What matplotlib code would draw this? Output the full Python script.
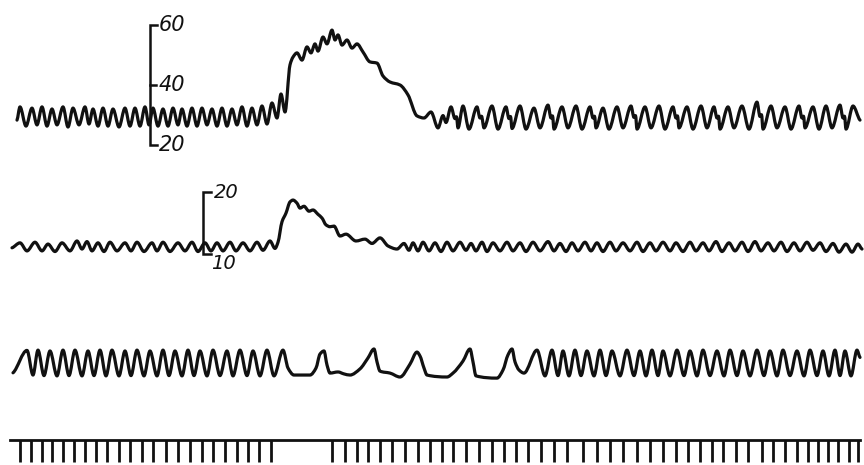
import numpy as np
import matplotlib
matplotlib.use("Agg")
import matplotlib.pyplot as plt
from matplotlib.path import Path
from matplotlib.patches import PathPatch

# ---------------- data (read from the recording) ----------------
# Trace 1: blood pressure (mmHg) vs chart position
bp_x = [17, 20, 26, 32, 37, 42, 47, 52, 57, 63, 68, 73, 79, 85, 89, 93, 98, 103, 108, 113,
        119, 125, 130, 135, 140, 145, 149, 153, 158, 163, 168, 173, 178, 182, 187, 192, 197,
        202, 207, 212, 217, 222, 227, 232, 237, 242, 247, 252, 257, 262, 267, 272, 277, 281, 285,
        290, 293, 297, 302, 307, 311, 315, 318, 323, 327, 332, 335, 338, 342, 347, 352, 357,
        363, 370, 377, 383, 390, 400, 408, 417, 424, 431, 438, 443, 446,
        451, 455, 456.5, 458, 463, 469, 477, 480, 481.5, 484, 492, 498, 506, 509, 510.5, 512,
        520, 526, 534, 540, 548, 551, 552.5, 554, 562, 568, 576, 582, 590, 593, 594.5, 596,
        603, 609, 617, 623, 631, 634, 635.5, 637, 645, 651, 659, 665, 673, 676, 677.5, 679,
        687, 693, 701, 707, 714, 717, 718.5, 720, 728, 734, 742, 749, 757, 760, 761.5, 763,
        771, 777, 785, 791, 799, 802, 803.5, 805, 813, 819, 826, 832, 840, 843, 844.5, 846,
        853, 860]
bp_v = [28.3, 32.7, 26.3, 32.3, 26.7, 32.7, 26.3, 32.0, 26.7, 32.7, 26.0, 32.3, 26.7, 32.7,
        27.0, 32.0, 26.3, 32.3, 26.3, 32.0, 26.0, 32.3, 26.3, 32.3, 26.3, 32.7, 26.7, 32.3,
        26.3, 32.0, 26.3, 32.3, 26.7, 32.0, 26.3, 32.3, 26.3, 32.3, 26.7, 32.0, 26.3, 32.3,
        26.3, 32.0, 26.7, 32.7, 26.3, 32.3, 26.7, 33.0, 27.0, 34.0, 29.0, 37.0, 31.0,
        46.7, 49.3, 50.7, 48.3, 52.7, 50.7, 53.7, 51.3, 56.0, 53.7, 58.3, 55.0, 56.7, 53.3,
        55.0, 52.3, 53.7, 51.0, 47.7, 47.3, 43.0, 41.0, 40.0, 36.7, 29.7, 29.0, 31.0, 25.7,
        29.8, 27.5,
        32.7, 28.8, 29.4, 25.7, 33.0, 25.3, 32.7, 29.0, 29.6, 25.7, 33.0, 25.3, 32.7, 28.8,
        29.5, 25.5, 33.0, 25.3, 32.3, 25.7, 33.3, 29.0, 29.7, 25.3, 32.7, 25.7, 33.0, 25.3,
        32.7, 29.0, 29.6, 25.7, 32.3, 25.3, 32.7, 25.7, 33.0, 29.2, 29.8, 25.3, 32.7, 25.7,
        33.0, 25.3, 32.7, 29.0, 29.7, 25.7, 32.7, 25.3, 33.0, 25.7, 32.7, 29.0, 29.6, 25.3,
        32.7, 25.7, 33.0, 25.3, 34.3, 29.5, 30.1, 25.3, 33.0, 25.7, 32.7, 25.3, 33.0, 29.0,
        29.6, 25.7, 32.7, 25.3, 33.0, 25.7, 33.3, 29.0, 29.6, 25.3, 33.0, 28.3]
bp_scale = [20, 40, 60]

# Trace 2: second pressure channel (mmHg)
p2_x = [12, 20, 27, 35, 42, 48, 55, 62, 70, 77, 82, 87, 92, 98, 104, 110, 117, 125, 131, 137,
        144, 152, 157, 163, 170, 178, 185, 192, 198, 205, 211, 217, 223, 230, 236, 243, 250,
        257, 263, 270, 275,
        278, 282, 286, 290, 293, 297, 300, 304, 309, 313, 318, 322, 326, 330, 334, 340, 346,
        356, 365, 372, 380, 388, 397,
        404, 409, 413, 418, 423, 429, 435, 441, 447, 453, 460, 466, 471, 476, 482, 487, 493,
        500, 507, 513, 520, 526, 533, 540, 548, 554, 560, 566, 572, 578, 585, 591, 597, 603,
        610, 616, 623, 630, 637, 643, 650, 656, 663, 670, 676, 683, 690, 696, 703, 709, 716,
        722, 729, 735, 742, 748, 755, 761, 768, 774, 781, 787, 794, 800, 807, 813, 820, 826,
        833, 839, 846, 852, 858, 862]
p2_v = [11.0, 11.8, 10.5, 11.9, 10.5, 11.6, 10.4, 11.8, 10.5, 12.1, 10.8, 12.0, 10.5, 11.8,
        10.4, 11.9, 10.5, 11.8, 10.5, 11.9, 10.4, 11.8, 10.5, 11.9, 10.4, 11.8, 10.5, 11.9,
        10.4, 11.8, 10.5, 11.8, 10.5, 11.9, 10.5, 11.8, 10.5, 11.9, 10.6, 12.1, 10.9,
        11.9, 15.2, 16.6, 18.4, 18.7, 18.2, 17.4, 17.7, 16.9, 17.1, 16.4, 15.8, 14.7, 14.4,
        14.5, 12.9, 13.2, 12.1, 12.4, 11.7, 12.6, 11.3, 10.8,
        11.7, 10.6, 11.8, 10.5, 11.9, 10.5, 11.8, 10.4, 11.9, 10.5, 11.9, 10.6, 11.7, 10.5,
        11.9, 10.4, 11.8, 10.5, 11.9, 10.5, 11.8, 10.4, 11.9, 10.5, 12.0, 10.5, 11.7, 10.4,
        11.8, 10.5, 11.9, 10.5, 11.8, 10.4, 11.9, 10.5, 11.8, 10.5, 11.9, 10.4, 11.8, 10.5,
        11.9, 10.5, 11.8, 10.4, 11.9, 10.5, 11.8, 10.5, 12.0, 10.4, 11.8, 10.5, 11.9, 10.4,
        12.0, 10.5, 11.8, 10.5, 11.9, 10.4, 11.8, 10.5, 11.9, 10.6, 11.8, 10.4, 11.7, 10.3,
        11.6, 10.3, 11.6, 10.8]
p2_scale = [10, 20]

# Trace 3: respiration (relative amplitude)
resp_x = [13, 27, 33, 38, 44, 50, 57, 63, 69, 75, 82, 88, 94, 100, 106, 112, 119, 125, 131,
          137, 144, 150, 157, 163, 169, 175, 182, 188, 194, 200, 207, 213, 220, 227, 233, 240,
          247, 253, 260, 267, 274, 283,
          288, 294, 310, 316, 320, 324, 327, 330, 338, 344, 350, 360, 368, 374, 377, 380, 390,
          400, 410, 417, 420, 424, 427, 447, 453, 463, 470, 473, 476, 497, 503, 508, 512, 515,
          519, 524,
          537, 545, 552, 558, 563, 569, 575, 581, 587, 594, 600, 606, 612, 620, 627, 634, 640,
          646, 652, 658, 663, 670, 677, 684, 690, 697, 703, 710, 717, 724, 730, 737, 743, 750,
          757, 764, 770, 777, 783, 790, 797, 804, 810, 817, 823, 829, 835, 840, 845, 851, 857,
          860]
resp_v = [0.15, 0.95, 0.07, 0.96, 0.05, 0.93, 0.04, 0.96, 0.05, 0.96, 0.04, 0.93, 0.05, 0.96,
          0.04, 0.96, 0.04, 0.93, 0.05, 0.96, 0.04, 0.93, 0.04, 0.96, 0.05, 0.93, 0.04, 0.96,
          0.05, 0.93, 0.04, 0.96, 0.05, 0.93, 0.04, 0.96, 0.05, 0.93, 0.04, 0.96, 0.04, 0.96,
          0.32, 0.07, 0.07, 0.32, 0.82, 0.93, 0.43, 0.14, 0.18, 0.11, 0.07, 0.29, 0.68, 1.0,
          0.54, 0.21, 0.14, 0.0, 0.46, 0.89, 0.75, 0.32, 0.07, 0.0, 0.14, 0.57, 1.0, 0.54,
          0.04, -0.04, 0.25, 0.79, 1.0, 0.54, 0.25, 0.14,
          0.96, 0.04, 0.96, 0.05, 0.93, 0.04, 0.96, 0.05, 0.93, 0.04, 0.96, 0.05, 0.93, 0.04,
          0.96, 0.05, 0.93, 0.04, 0.96, 0.05, 0.93, 0.04, 0.96, 0.05, 0.93, 0.04, 0.96, 0.05,
          0.93, 0.04, 0.96, 0.05, 0.93, 0.04, 0.96, 0.05, 0.93, 0.04, 0.96, 0.05, 0.93, 0.04,
          0.96, 0.05, 0.93, 0.04, 0.96, 0.05, 0.93, 0.04, 0.96, 0.7]

# Trace 4: time marks
time_marks_left = [20, 31, 42, 52, 63, 74, 85, 96, 107, 119, 130, 142, 153, 166, 178, 190,
                   202, 213, 225, 237, 248, 259, 271]
time_marks_right = [332, 345, 357, 368, 380, 392, 405, 418, 430, 442, 453, 466, 479, 492, 504,
                    516, 528, 541, 554, 567, 583, 597, 610, 623, 637, 650, 663, 676, 688, 700,
                    712, 723, 736, 748, 762, 773, 785, 797, 808, 818, 828, 838, 849, 858]
time_line = [10, 860]

# ---------------- drawing ----------------
INK = "#111111"
W, H = 864, 465


def smooth_path(x, y):
    """Monotone cubic (PCHIP style) Bezier path through the given points."""
    x = np.asarray(x, float)
    y = np.asarray(y, float)
    h = np.diff(x)
    d = np.diff(y) / h
    n = len(x)
    m = np.zeros(n)
    for i in range(1, n - 1):
        if d[i - 1] * d[i] > 0:
            w1 = 2 * h[i] + h[i - 1]
            w2 = h[i] + 2 * h[i - 1]
            m[i] = (w1 + w2) / (w1 / d[i - 1] + w2 / d[i])
    m[0] = d[0] * 0.5
    m[-1] = d[-1] * 0.5
    verts = [(x[0], y[0])]
    codes = [Path.MOVETO]
    for i in range(n - 1):
        verts += [(x[i] + h[i] / 3, y[i] + m[i] * h[i] / 3),
                  (x[i + 1] - h[i] / 3, y[i + 1] - m[i + 1] * h[i] / 3),
                  (x[i + 1], y[i + 1])]
        codes += [Path.CURVE4] * 3
    return Path(verts, codes)


fig = plt.figure(figsize=(W / 100, H / 100), dpi=100)
fig.patch.set_facecolor("white")


def layer(ylim):
    ax = fig.add_axes([0, 0, 1, 1])
    ax.set_xlim(0, W)
    ax.set_ylim(*ylim)
    ax.axis("off")
    ax.patch.set_alpha(0)
    return ax


# vertical placement of each channel (value range covering the figure height)
ax1 = layer((20 - (H - 145) / 3, 20 + 145 / 3))
ax2 = layer((10 - (H - 254) / 6.2, 10 + 254 / 6.2))
ax3 = layer((-(H - 377) / 28, 377 / 28))
ax4 = layer((-(H - 462) / 22, 462 / 22))

trace_kw = dict(fill=False, edgecolor=INK, linewidth=2.3, capstyle="round", joinstyle="round")
for ax, xs, vs in ((ax1, bp_x, bp_v), (ax2, p2_x, p2_v), (ax3, resp_x, resp_v)):
    ax.add_patch(PathPatch(smooth_path(xs, vs), transform=ax.transData, **trace_kw))

# calibration bar, channel 1
bx1 = 150
ax1.plot([bx1 + 7, bx1, bx1, bx1 + 7], [bp_scale[-1], bp_scale[-1], bp_scale[0], bp_scale[0]],
         color=INK, lw=1.8, solid_joinstyle="miter")
ax1.plot([bx1, bx1 + 6], [bp_scale[1]] * 2, color=INK, lw=1.8)
for v in bp_scale:
    ax1.text(bx1 + 9, v, str(v), ha="left", va="center", fontsize=15, style="italic", color=INK)

# calibration bar, channel 2
bx2 = 203
ax2.plot([bx2 + 8, bx2, bx2, bx2 + 8], [p2_scale[-1], p2_scale[-1], p2_scale[0], p2_scale[0]],
         color=INK, lw=1.8, solid_joinstyle="miter")
ax2.text(bx2 + 11, p2_scale[-1], str(p2_scale[-1]), ha="left", va="center", fontsize=14,
         style="italic", color=INK)
ax2.text(bx2 + 8, p2_scale[0], str(p2_scale[0]), ha="left", va="top", fontsize=14,
         style="italic", color=INK)

# time marker
ax4.plot(time_line, [1, 1], color=INK, lw=2.0)
ax4.vlines(time_marks_left + time_marks_right, 0, 1, color=INK, lw=2.0)

fig.savefig("out.png", dpi=100, facecolor="white")
